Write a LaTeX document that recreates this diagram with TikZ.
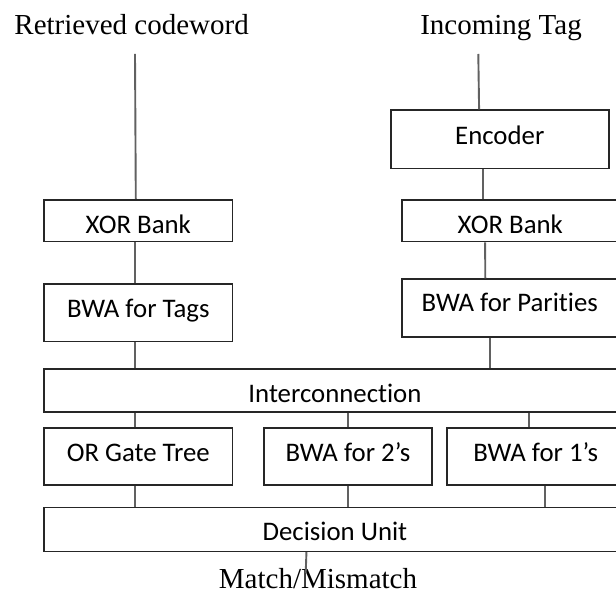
\documentclass[tikz,border=0pt]{standalone}
\usepackage{fontspec}
\setmainfont{Liberation Serif}
\newfontfamily\boxfont[Ligatures={NoCommon}]{Carlito}
\newcommand{\dn}[2]{\raisebox{#1}{#2}}
\begin{document}
\begin{tikzpicture}[x=1pt,y=-1pt,
  blk/.style={draw=black!85,line width=1.6pt,inner sep=0pt,anchor=north west,
    text height=17pt,text depth=0pt,
    font=\boxfont\fontsize{26.8}{30}\selectfont},
  conn/.style={draw=black!62,line width=1.9pt},
  lbl/.style={inner sep=0pt,anchor=base,font=\fontsize{29}{32}\selectfont}]
\useasboundingbox (0,0) rectangle (616,593);
\fill[white] (0,0) rectangle (616,593);
\clip (0,0) rectangle (616,593);

% titles
\node[lbl] (t1) at (131.6,35) {Retrieved codeword};
\node[lbl] (t2) at (501,35) {Incoming Tag};

% blocks
\node[blk,minimum width=218pt,minimum height=58.4pt] (enc) at (390,109.3) {\dn{3pt}{Encoder}};
\node[blk,minimum width=188.4pt,minimum height=41.7pt] (xorl) at (43.3,199) {\dn{-4.6pt}{XOR Bank}};
\node[blk,minimum width=217pt,minimum height=41.7pt] (xorr) at (401,199) {\dn{-4.6pt}{XOR Bank}};
\node[blk,minimum width=188.4pt,minimum height=57.4pt] (bwat) at (43.3,283.3) {\dn{3.7pt}{BWA for Tags}};
\node[blk,minimum width=216pt,minimum height=57.7pt] (bwap) at (401,278.3) {\dn{4.5pt}{BWA for Parities}};
\node[blk,minimum width=581.7pt,minimum height=43pt] (ic) at (43.3,368) {\dn{-3.8pt}{Interconnection}};
\node[blk,minimum width=188.4pt,minimum height=57pt] (org) at (43.3,427.3) {\dn{3.8pt}{OR Gate Tree}};
\node[blk,minimum width=167.7pt,minimum height=57pt] (two) at (263.3,427.3) {\dn{3.5pt}{BWA for 2’s}};
\node[blk,minimum width=178pt,minimum height=57pt] (one) at (446,427.3) {\dn{3.5pt}{BWA for 1’s}};
\node[blk,minimum width=581.7pt,minimum height=44pt] (du) at (43.3,506.5) {\dn{-2.8pt}{Decision Unit}};
\node[lbl] (mm) at (318,588) {Match/Mismatch};

% connectors
\draw[conn] ([shift={(3.4pt,-19pt)}]t1.base) -- ([xshift=-2.5pt]xorl.north);
\draw[conn] ([shift={(-22.7pt,-19pt)}]t2.base) -- ([xshift=-20.7pt]enc.north);
\draw[conn] ([xshift=-16.7pt]enc.south) -- ([xshift=-27.2pt]xorr.north);
\draw[conn] ([xshift=-3.5pt]xorl.south) -- ([xshift=-3.5pt]bwat.north);
\draw[conn] ([xshift=-25.2pt]xorr.south) -- ([xshift=-24.5pt]bwap.north);
\draw[conn] ([xshift=-3.2pt]bwat.south) -- ([xshift=-3.2pt]bwat.south |- ic.north);
\draw[conn] ([xshift=-19.5pt]bwap.south) -- ([xshift=-19.5pt]bwap.south |- ic.north);
\draw[conn] ([xshift=-3.2pt]org.north |- ic.south) -- ([xshift=-3.2pt]org.north);
\draw[conn] (two.north |- ic.south) -- (two.north);
\draw[conn] ([xshift=-6.7pt]one.north |- ic.south) -- ([xshift=-6.7pt]one.north);
\draw[conn] ([xshift=-2.9pt]org.south) -- ([xshift=-2.9pt]org.south |- du.north);
\draw[conn] ([xshift=0.3pt]two.south) -- ([xshift=0.3pt]two.south |- du.north);
\draw[conn] ([xshift=8.8pt]one.south) -- ([xshift=8.8pt]one.south |- du.north);
\draw[conn] ([xshift=-28.5pt]du.south) -- ([shift={(-12.3pt,15pt)}]mm.base);
\end{tikzpicture}
\end{document}
